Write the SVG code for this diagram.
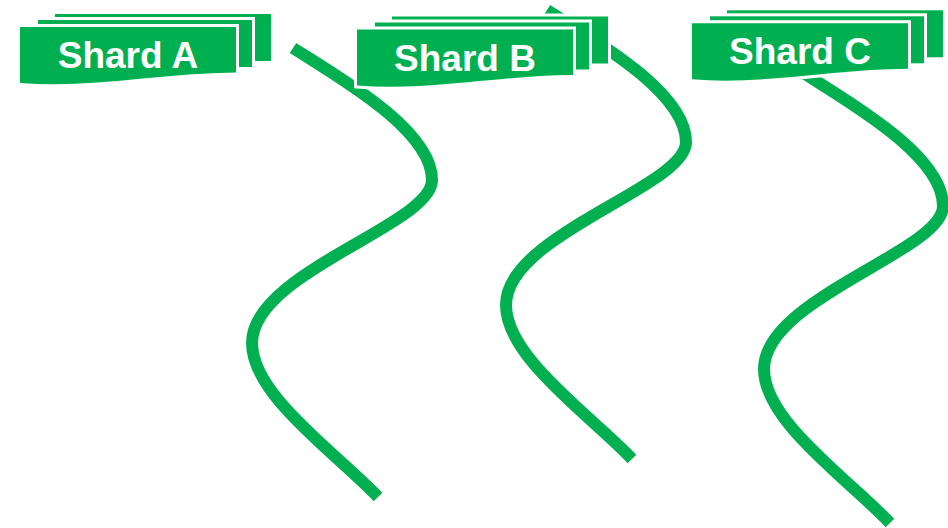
<svg xmlns="http://www.w3.org/2000/svg" width="948" height="528" viewBox="0 0 948 528">
  <style>
    .curve { fill: none; stroke: #00B050; stroke-width: 12; stroke-linecap: butt; }
    .doc { fill: #00B050; stroke: #FFFFFF; stroke-width: 6; paint-order: stroke; stroke-linejoin: miter; }
    .label { font-family: "Liberation Sans", Arial, sans-serif; font-weight: bold; font-size: 37px; fill: #FFFFFF; text-anchor: middle; }
  </style>
  <defs>
    <g id="stack">
      <rect class="doc" x="35" y="-13" width="216" height="47"/>
      <rect class="doc" x="18" y="-7" width="214" height="47"/>
      <path class="doc" d="M0,0 H216 V45.5 C140,46 70,62 0,56 Z"/>
    </g>
  </defs>
  <rect width="948" height="528" fill="#FFFFFF"/>
  <g id="connectors">
    <path class="curve" d="M293,48 C340,78 432,130 432,180 C432,225 252,272 252,343 C252,395 335,452 378,497"/>
    <path class="curve" d="M547,10 C594,40 686,92 686,142 C686,187 506,234 506,305 C506,357 589,414 632,459"/>
    <path class="curve" d="M805,74 C852,104 943,156 943,206 C943,251 764,298 764,369 C764,421 847,478 890,523"/>
  </g>
  <g id="shard-a" transform="translate(20,27)">
    <use href="#stack"/>
    <text class="label" x="108" y="41">Shard A</text>
  </g>
  <g id="shard-b" transform="translate(357,29.5)">
    <use href="#stack"/>
    <text class="label" x="108" y="41">Shard B</text>
  </g>
  <g id="shard-c" transform="translate(692,23.3)">
    <use href="#stack"/>
    <text class="label" x="108" y="41">Shard C</text>
  </g>
</svg>
